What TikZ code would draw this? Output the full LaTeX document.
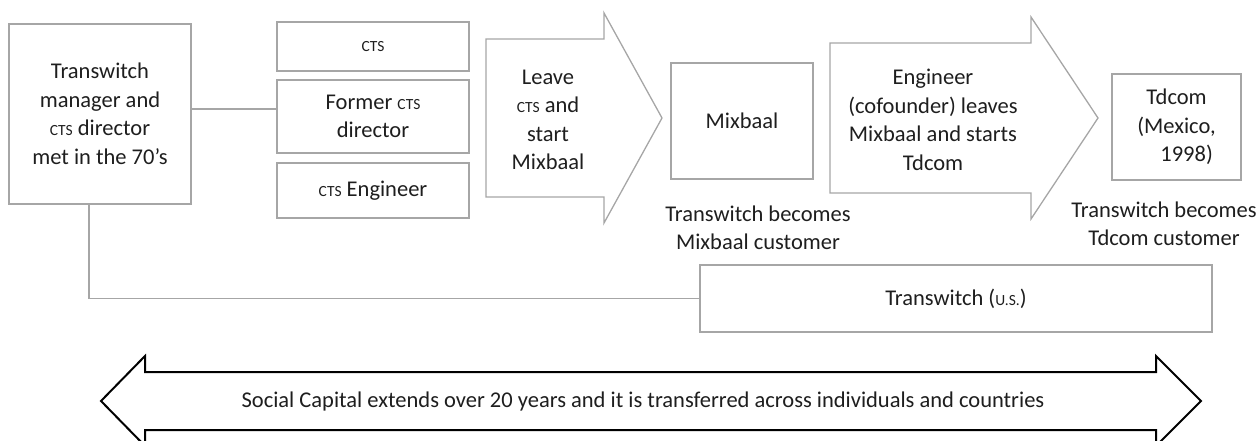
\documentclass[tikz,border=0pt]{standalone}
\usepackage{fontspec}
\setmainfont{Carlito}
\newcommand{\smc}[1]{{\fontsize{15.5}{15.5}\selectfont #1}}
\definecolor{boxgray}{HTML}{A6A6A6}
\definecolor{txt}{HTML}{1E1E1E}
\tikzset{
  box/.style={draw=boxgray, line width=1.3pt, rectangle, inner sep=0pt, align=center, text=txt},
  conn/.style={draw=boxgray, line width=1.3pt},
  shapeline/.style={draw=boxgray, line width=1.3pt, line join=miter},
  label/.style={align=center, text=txt, inner sep=0pt},
  bigarrow/.style={draw=black, line width=2pt, line join=miter},
}
\begin{document}
\begin{tikzpicture}[x=1pt,y=-1pt, font=\fontsize{22.5}{28.5}\selectfont]
\useasboundingbox (0,0) rectangle (1256,441);
% left box
\node[box, minimum width=182pt, minimum height=180pt] (left) at (100,114)
  {Transwitch\\manager and\\\smc{CTS} director\\met in the 70’s};
% CTS boxes
\node[box, minimum width=192pt, minimum height=49pt] (cts) at (373,46.5) {\smc{CTS}};
\node[box, minimum width=192pt, minimum height=73pt] (former) at (373,116.5) {Former \smc{CTS}\\director};
\node[box, minimum width=192pt, minimum height=55pt] (eng) at (373,190.5) {\smc{CTS} Engineer};
% arrow 1
\draw[shapeline] (486,39) -- (604,39) -- (604,13) -- (662,118) -- (604,223) -- (604,197) -- (486,197) -- cycle;
\node[label] (a1) at (548,120) {Leave\\\smc{CTS} and\\start\\Mixbaal};
% Mixbaal
\node[box, minimum width=142pt, minimum height=116pt] (mix) at (742,121) {Mixbaal};
\node[label] (mixcust) at (758,228) {Transwitch becomes\\Mixbaal customer};
% arrow 2
\draw[shapeline] (830,43) -- (1031,43) -- (1031,17) -- (1098,118) -- (1031,219) -- (1031,193) -- (830,193) -- cycle;
\node[label] (a2) at (933,120) {Engineer\\(cofounder) leaves\\Mixbaal and starts\\Tdcom};
% Tdcom
\node[box, minimum width=129pt, minimum height=106pt] (td) at (1176.5,127) {Tdcom\\(Mexico,\\\hspace*{0.9em}1998)};
\node[label] (tdcust) at (1164,224) {Transwitch becomes\\Tdcom customer};
% Transwitch US
\node[box, minimum width=512pt, minimum height=67pt] (tw) at (956,298.5) {Transwitch (\smc{U.S.})};
% connectors
\coordinate (c1) at (0,109);
\coordinate (c2) at (89,0);
\draw[conn] (left.east |- c1) -- (former.west |- c1);
\draw[conn] (left.south -| c2) |- (tw.west);
% bottom double arrow
\draw[bigarrow, fill=white] (101,401) -- (145,356) -- (145,372) -- (1156,372) -- (1156,356) -- (1201,401) -- (1156,446) -- (1156,430) -- (145,430) -- (145,446) -- cycle;
\node[label] (sc) at (643,401) {Social Capital extends over 20 years and it is transferred across individuals and countries};
\end{tikzpicture}
\end{document}
